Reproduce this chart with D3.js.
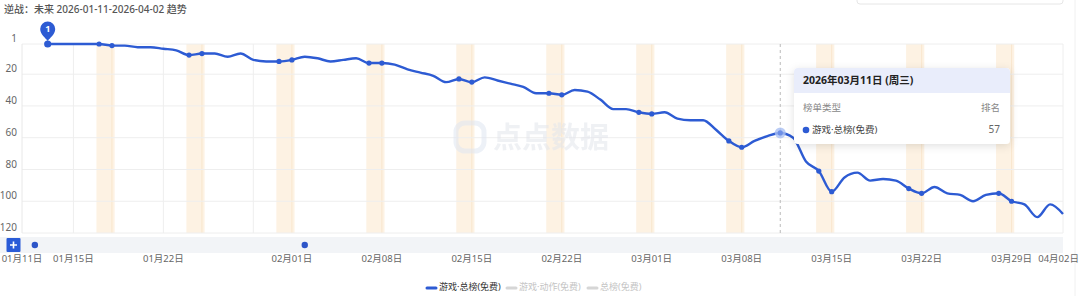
<!DOCTYPE html>
<html><head><meta charset="utf-8">
<script src="https://cdn.jsdelivr.net/npm/d3@7"></script>
<style>
html,body{margin:0;padding:0;background:#fff;}
svg{display:block;font-family:"Noto Sans","Noto Sans CJK SC",sans-serif;}
</style></head>
<body><svg id="c" width="1080" height="296"></svg>
<script>
const title = "逆战：未来 2026-01-11-2026-04-02 趋势";
const startDate = "2026-01-11", endDate = "2026-04-02";
const firstDataDate = "2026-01-13";
const ranks = [1,1,1,1,1,2,2,3,3,4,5,8,7,7,9,7,11,12,12,
  11,9,10,12,11,10,13,13,14,17,19,21,25,23,25,22,24,26,28,32,32,33,30,31,36,42,42,44,
  45,44,48,49,49,55,62,66,62,59,57,60,75,81,94,85,82,87,86,87,92,95,91,95,96,100,96,95,100,102,110,
  102,108];
const yTicks = [1,20,40,60,80,100,120];
const xTickDates = ["2026-01-11","2026-01-15","2026-01-22","2026-02-01","2026-02-08","2026-02-15","2026-02-22","2026-03-01","2026-03-08","2026-03-15","2026-03-22","2026-03-29","2026-04-02"];
const vGridDates = ["2026-01-15","2026-01-22","2026-01-29","2026-04-02"];
const eventDates = ["2026-01-12","2026-02-02"];
const hoverDate = "2026-03-11";
const seriesNames = ["游戏·总榜(免费)","游戏·动作(免费)","总榜(免费)"];
const tooltipHeader = "2026年03月11日 (周三)";
const tooltipCols = ["榜单类型","排名"];

const parse = d3.utcParse("%Y-%m-%d");
const fmt = d3.utcFormat("%m月%d日");
const blue = "#2d5bd3";
const svg = d3.select("#c");

const x = d3.scaleUtc().domain([parse(startDate), parse(endDate)]).range([22, 1063]);
const y = d3.scaleLinear().domain([1, 120]).range([44, 233]);

const t0 = parse(firstDataDate);
const data = ranks.map((r, i) => ({date: d3.utcDay.offset(t0, i), rank: r}));

const defs = svg.append("defs");
const f = defs.append("filter").attr("id","sh").attr("x","-20%").attr("y","-20%").attr("width","140%").attr("height","150%");
f.append("feDropShadow").attr("dx",0).attr("dy",2).attr("stdDeviation",4).attr("flood-color","#000").attr("flood-opacity",0.12);

svg.append("text").attr("x",4).attr("y",13).attr("font-size",10).attr("font-weight",500).attr("fill","#555").text(title);

svg.append("rect").attr("x",857).attr("y",-10).attr("width",206).attr("height",14).attr("rx",3)
  .attr("fill","#fff").attr("stroke","#e6e6e6");

const days = d3.utcDay.range(parse(startDate), d3.utcDay.offset(parse(endDate),1));
const sats = days.filter(d => d.getUTCDay() === 6);
svg.append("g").selectAll("rect").data(sats).join("rect")
  .attr("x", d => x(d3.utcHour.offset(d, -5)))
  .attr("width", d => x(d3.utcHour.offset(d, 29)) - x(d3.utcHour.offset(d, -5)))
  .attr("y", y(1)).attr("height", y(120) - y(1))
  .attr("fill", "#fdf2e3");
svg.append("g").selectAll("line").data(sats).join("line")
  .attr("x1", d => x(d3.utcDay.offset(d,1))).attr("x2", d => x(d3.utcDay.offset(d,1)))
  .attr("y1", y(1)).attr("y2", y(120)).attr("stroke","#f7e3c8").attr("stroke-width",0.8);

svg.append("g").selectAll("line").data(yTicks).join("line")
  .attr("x1", 22).attr("x2", 1063).attr("y1", d => y(d)).attr("y2", d => y(d))
  .attr("stroke", "#eeeeee").attr("stroke-width", 1);
svg.append("line").attr("x1",x(parse(startDate))).attr("x2",x(parse(startDate))).attr("y1",y(1)).attr("y2",y(120)).attr("stroke","#e8e8e8");
svg.append("g").selectAll("line").data(vGridDates).join("line")
  .attr("x1", d => x(parse(d))).attr("x2", d => x(parse(d))).attr("y1", y(1)).attr("y2", y(120))
  .attr("stroke","#eeeeee");
svg.append("line").attr("x1",1075).attr("x2",1075).attr("y1",0).attr("y2",296).attr("stroke","#f0f0f0");

svg.append("g").selectAll("text").data(yTicks).join("text")
  .attr("x", 17).attr("y", d => y(d) - 4.5).attr("text-anchor","end").attr("dominant-baseline","middle")
  .attr("font-size", 10).attr("fill", "#666").text(d => d);

const wm = svg.append("g").attr("opacity",0.55);
wm.append("rect").attr("x",456).attr("y",123).attr("width",28).attr("height",28).attr("rx",9).attr("fill","none").attr("stroke","#dfe6f2").attr("stroke-width",5);
wm.append("text").attr("x",493).attr("y",148).attr("font-size",29).attr("font-weight",700).attr("fill","#e3e6ec").text("点点数据");

const hx = x(parse(hoverDate));
svg.append("line").attr("x1",hx).attr("x2",hx).attr("y1",y(1)).attr("y2",y(120))
  .attr("stroke","#bbbbbb").attr("stroke-dasharray","3,3");

const line = d3.line().x(d => x(d.date)).y(d => y(d.rank)).curve(d3.curveMonotoneX);
svg.append("path").datum(data).attr("d", line).attr("fill","none").attr("stroke",blue)
  .attr("stroke-width",2.4).attr("stroke-linejoin","round");

svg.append("g").selectAll("circle").data(data.filter(d => d.date.getUTCDay()===6 || d.date.getUTCDay()===0)).join("circle")
  .attr("cx", d => x(d.date)).attr("cy", d => y(d.rank)).attr("r", 2.6).attr("fill", blue);

const hp = data.find(d => +d.date === +parse(hoverDate));
svg.append("circle").attr("cx",x(hp.date)).attr("cy",y(hp.rank)).attr("r",5.5).attr("fill","#a9bff2").attr("opacity",0.8);
svg.append("circle").attr("cx",x(hp.date)).attr("cy",y(hp.rank)).attr("r",2.6).attr("fill","#6d8fe6");

const best = data.reduce((a,b) => b.rank < a.rank ? b : a);
const px = x(best.date), py = y(best.rank);
svg.append("circle").attr("cx",px).attr("cy",py).attr("r",3.6).attr("fill",blue);
const cy = py - 15, r = 7.5, tip = py - 3;
svg.append("path").attr("fill",blue)
  .attr("d", `M${px},${tip} C${px-2},${tip-3} ${px-r},${cy+r*0.75} ${px-r},${cy} A${r},${r} 0 1 1 ${px+r},${cy} C${px+r},${cy+r*0.75} ${px+2},${tip-3} ${px},${tip} Z`);
svg.append("text").attr("x",px).attr("y",cy+0.5).attr("text-anchor","middle").attr("dominant-baseline","middle")
  .attr("font-size",9).attr("font-weight",700).attr("fill","#fff").text(best.rank);

svg.append("rect").attr("x",0).attr("y",237).attr("width",1063).attr("height",16).attr("fill","#f2f4f7");
svg.append("rect").attr("x",6.5).attr("y",238).attr("width",14).attr("height",14).attr("rx",1).attr("fill","#2a5bd7");
svg.append("path").attr("d","M13.5,241.5V248.5M10,245H17").attr("stroke","#fff").attr("stroke-width",1.6);
svg.append("g").selectAll("circle").data(eventDates).join("circle")
  .attr("cx", d => x(parse(d)) ).attr("cy",245).attr("r",3.2).attr("fill","#2d55c8");

const nX = xTickDates.length;
svg.append("g").selectAll("text").data(xTickDates).join("text")
  .attr("x", (d,i) => i === nX-1 ? 1079 : x(parse(d)))
  .attr("y", 259).attr("text-anchor",(d,i) => i === nX-1 ? "end" : "middle").attr("dominant-baseline","middle")
  .attr("font-size", 9.5).attr("fill","#666").text(d => fmt(parse(d)));

const legX = [427, 507, 588];
const legG = svg.append("g").selectAll("g").data(seriesNames).join("g")
  .attr("transform", (d,i) => `translate(${legX[i]},288)`);
legG.append("line").attr("x1",0).attr("x2",9).attr("y1",0).attr("y2",0)
  .attr("stroke",(d,i)=> i===0 ? blue : "#d6d6d6").attr("stroke-width",3).attr("stroke-linecap","round");
legG.append("text").attr("x",12).attr("y",0).attr("dominant-baseline","middle").attr("font-size",9)
  .attr("fill",(d,i)=> i===0 ? "#333" : "#c4c4c4").text(d => d);

const tt = svg.append("g").attr("transform","translate(794,68)");
tt.append("rect").attr("width",216).attr("height",76).attr("rx",4).attr("fill","#fff").attr("filter","url(#sh)");
tt.append("path").attr("d","M0,4 A4,4 0 0 1 4,0 H212 A4,4 0 0 1 216,4 V25 H0 Z").attr("fill","#e9edfb");
tt.append("text").attr("x",9).attr("y",13).attr("dominant-baseline","middle").attr("font-size",10.5).attr("font-weight",700)
  .attr("fill","#222").text(tooltipHeader);
tt.append("text").attr("x",9).attr("y",40).attr("dominant-baseline","middle").attr("font-size",9.5).attr("fill","#888").text(tooltipCols[0]);
tt.append("text").attr("x",206).attr("y",40).attr("text-anchor","end").attr("dominant-baseline","middle").attr("font-size",9.5).attr("fill","#888").text(tooltipCols[1]);
tt.append("circle").attr("cx",12).attr("cy",62).attr("r",3.3).attr("fill",blue);
tt.append("text").attr("x",18).attr("y",62).attr("dominant-baseline","middle").attr("font-size",9.5).attr("fill","#444").text(seriesNames[0]);
tt.append("text").attr("x",206).attr("y",62).attr("text-anchor","end").attr("dominant-baseline","middle").attr("font-size",10).attr("fill","#666").text(hp.rank);
</script></body></html>
